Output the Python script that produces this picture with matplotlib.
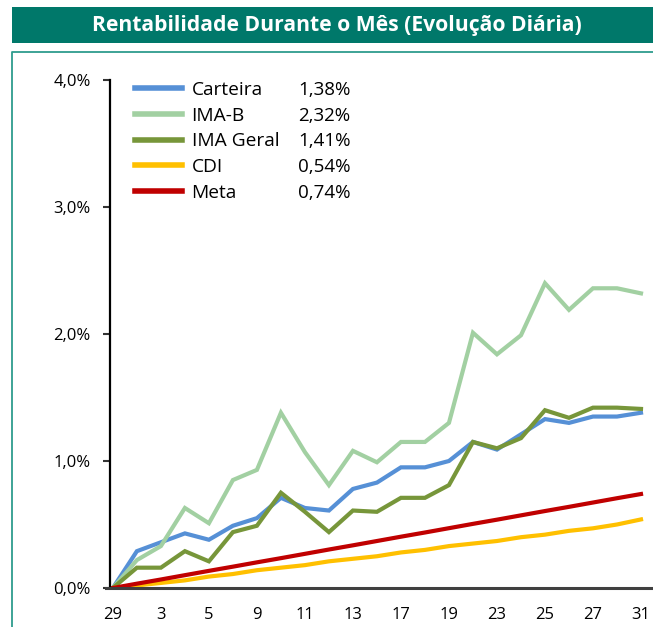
import matplotlib
matplotlib.use("Agg")
from matplotlib import pyplot as plt
from matplotlib.patches import Rectangle
from matplotlib.lines import Line2D
from matplotlib.ticker import FuncFormatter

plt.rcParams["font.family"] = ["Open Sans", "DejaVu Sans"]

# business days of the month (first point is the last day of the previous month)
days = [29, 2, 3, 4, 5, 6, 9, 10, 11, 12, 13, 16, 17, 18, 19, 20, 23, 24, 25, 26, 27, 30, 31]

carteira = [0.00, 0.29, 0.36, 0.43, 0.38, 0.49, 0.55, 0.71, 0.63, 0.61, 0.78, 0.83,
            0.95, 0.95, 1.00, 1.15, 1.09, 1.21, 1.33, 1.30, 1.35, 1.35, 1.38]
ima_b = [0.00, 0.22, 0.33, 0.63, 0.51, 0.85, 0.93, 1.38, 1.07, 0.81, 1.08, 0.99,
         1.15, 1.15, 1.30, 2.01, 1.84, 1.99, 2.40, 2.19, 2.36, 2.36, 2.32]
ima_geral = [0.00, 0.16, 0.16, 0.29, 0.21, 0.44, 0.49, 0.75, 0.60, 0.44, 0.61, 0.60,
             0.71, 0.71, 0.81, 1.15, 1.10, 1.18, 1.40, 1.34, 1.42, 1.42, 1.41]
cdi = [0.00, 0.02, 0.04, 0.06, 0.09, 0.11, 0.14, 0.16, 0.18, 0.21, 0.23, 0.25,
       0.28, 0.30, 0.33, 0.35, 0.37, 0.40, 0.42, 0.45, 0.47, 0.50, 0.54]
meta = [0.000, 0.034, 0.067, 0.101, 0.135, 0.168, 0.202, 0.235, 0.269, 0.303, 0.336, 0.370,
        0.404, 0.437, 0.471, 0.505, 0.538, 0.572, 0.606, 0.639, 0.673, 0.707, 0.740]

names = ["Carteira", "IMA-B", "IMA Geral", "CDI", "Meta"]
month_values = ["1,38%", "2,32%", "1,41%", "0,54%", "0,74%"]
colors = ["#5690D6", "#A2D0A2", "#77963A", "#FFC000", "#C00000"]
series = [carteira, ima_b, ima_geral, cdi, meta]

W, H = 653, 627
fig = plt.figure(figsize=(W / 100, H / 100), dpi=100)

# title bar and frame
fig.patches.append(Rectangle((12 / W, 1 - 43 / H), 1, 36 / H, transform=fig.transFigure,
                             facecolor="#00786A", edgecolor="none"))
fig.text(337 / W, 1 - 25 / H, "Rentabilidade Durante o Mês (Evolução Diária)",
         color="white", fontsize=15.2, fontweight="bold", ha="center", va="center")
fig.lines.append(Line2D([12.5 / W, 12.5 / W, 1.0], [0, 1 - 52 / H, 1 - 52 / H],
                        transform=fig.transFigure, color="#2E9C8E", lw=1.3))

ax = fig.add_axes([110 / W, 1 - 588 / H, 1 - 110 / W, (588 - 80) / H])
xs = list(range(len(days)))
for name, ys, c in zip(names, series, colors):
    ax.plot(xs, ys, color=c, lw=3, label=name, solid_joinstyle="miter")

ax.set_xlim(-0.12, 22.5)
ax.set_ylim(0, 4.0)
ax.set_yticks([0, 1, 2, 3, 4])
ax.yaxis.set_major_formatter(FuncFormatter(lambda v, p: f"{v:.1f}%".replace(".", ",")))
ax.set_xticks(xs)
ax.set_xticklabels([str(d) if i % 2 == 0 else "" for i, d in enumerate(days)])
ax.tick_params(axis="x", length=0, pad=14, labelsize=12)
ax.tick_params(axis="y", length=5, width=1.5, color="#333333", pad=9, labelsize=12)
for s in ["top", "right"]:
    ax.spines[s].set_visible(False)
ax.spines["left"].set_linewidth(1.6)
ax.spines["left"].set_color("black")
ax.spines["bottom"].set_linewidth(2.2)
ax.spines["bottom"].set_color("#404040")
ax.spines["bottom"].set_bounds(-0.3, 22.5)

leg = ax.legend(loc="upper left", bbox_to_anchor=(135 / W, 1 - 81 / H),
                bbox_transform=fig.transFigure, frameon=False, fontsize=13.8,
                handlelength=2.45, handletextpad=0.5, labelspacing=0.4,
                borderpad=0, borderaxespad=0)
for h in leg.get_lines():
    h.set_linewidth(4)

fig.canvas.draw()
for t, v in zip(leg.get_texts(), month_values):
    bb = t.get_window_extent()
    fig.text(298 / W, (bb.y0 + bb.y1) / 2 / H, v, fontsize=13.5, ha="left", va="center")

fig.savefig("out.png", dpi=100)
